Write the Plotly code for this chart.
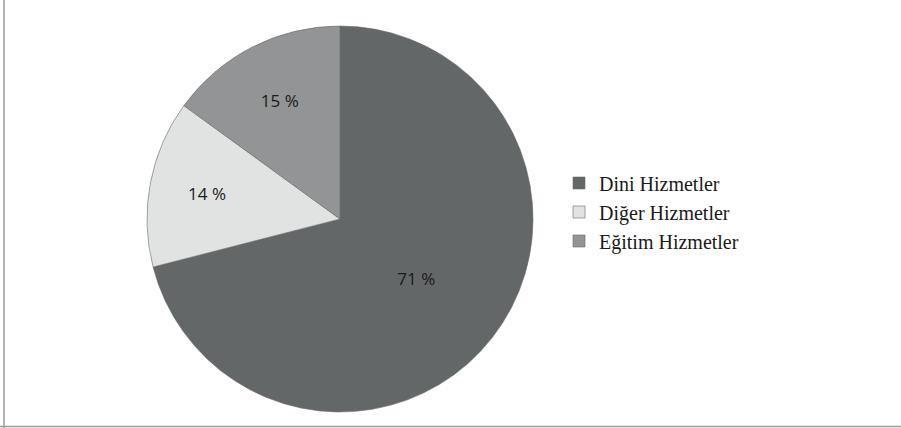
import plotly.graph_objects as go

labels = ["Dini Hizmetler", "Diğer Hizmetler", "Eğitim Hizmetler"]
values = [71, 14, 15]
colors = ["#646768", "#e1e2e2", "#929495"]

W, H = 901, 428
cx, cy, r = 340, 219, 193

fig = go.Figure(go.Pie(
    labels=labels,
    values=values,
    sort=False,
    direction="clockwise",
    rotation=0,
    marker=dict(colors=colors, line=dict(color="#6a6a6a", width=0.6)),
    texttemplate="%{value} %",
    textposition="inside",
    insidetextorientation="horizontal",
    textfont=dict(family="Open Sans", size=17, color="#1a1a1a"),
    hoverinfo="label+percent",
    domain=dict(x=[(cx - r) / W, (cx + r) / W], y=[(H - cy - r) / H, (H - cy + r) / H]),
))

fig.update_layout(
    width=W, height=H,
    margin=dict(l=0, r=0, t=0, b=0),
    paper_bgcolor="white",
    showlegend=True,
    legend=dict(
        x=559 / W, y=1 - 212 / H, xanchor="left", yanchor="middle",
        font=dict(family="Liberation Serif", size=20, color="#1a1a1a"),
        tracegroupgap=0,
    ),
    shapes=[
        dict(type="line", xref="paper", yref="paper", x0=4 / W, x1=4 / W, y0=0, y1=1,
             line=dict(color="#9a9a9a", width=1.5)),
        dict(type="line", xref="paper", yref="paper", x0=0, x1=1, y0=1.5 / H, y1=1.5 / H,
             line=dict(color="#9a9a9a", width=1.5)),
    ],
)

fig.write_html("out.html", config={"displayModeBar": False})
with open("out.html", encoding="utf-8") as f:
    html = f.read()
html = html.replace("<head>", "<head><style>html,body{margin:0;padding:0;overflow:hidden;}</style>", 1)
with open("out.html", "w", encoding="utf-8") as f:
    f.write(html)
